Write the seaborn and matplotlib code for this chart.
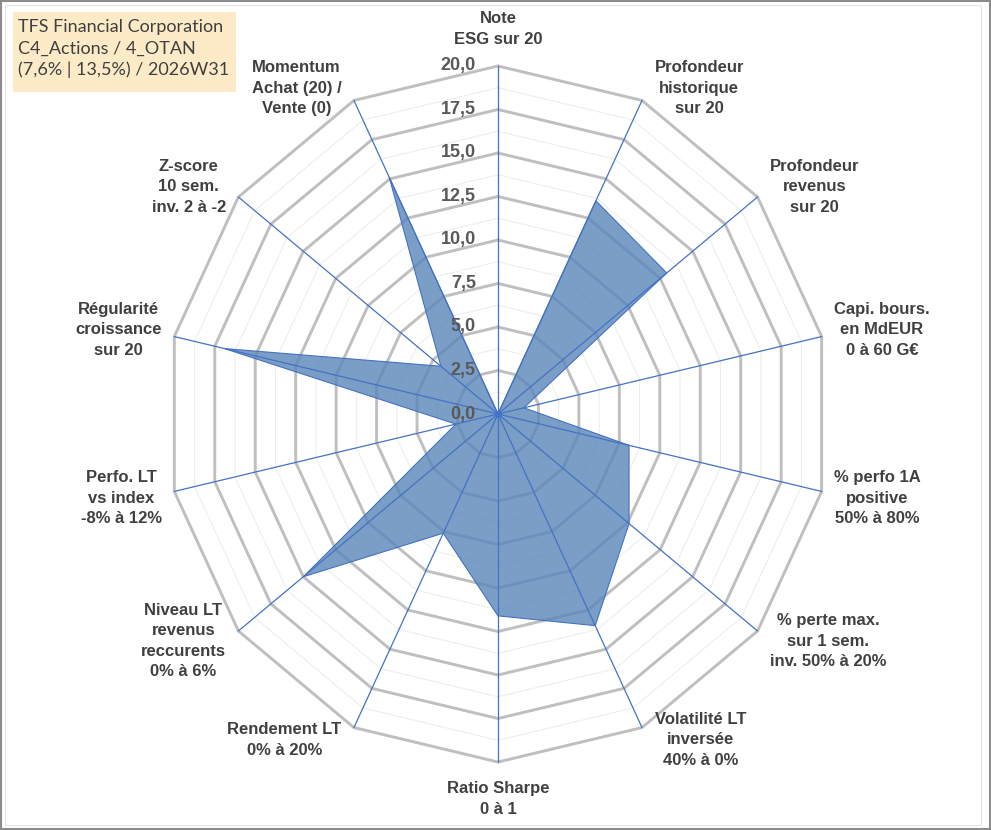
import numpy as np
import pandas as pd
import seaborn as sns
import matplotlib
matplotlib.use("Agg")
import matplotlib.pyplot as plt
from matplotlib.patches import Rectangle

# axis labels, clockwise from the top
categories = [
    "Note\nESG sur 20",
    "Profondeur\nhistorique\nsur 20",
    "Profondeur\nrevenus\nsur 20",
    "Capi. bours.\nen MdEUR\n0 à 60 G€",
    "% perfo 1A\npositive\n50% à 80%",
    "% perte max.\nsur 1 sem.\ninv. 50% à 20%",
    "Volatilité LT\ninversée\n40% à 0%",
    "Ratio Sharpe\n0 à 1",
    "Rendement LT\n0% à 20%",
    "Niveau LT\nrevenus\nreccurents\n0% à 6%",
    "Perfo. LT\nvs index\n-8% à 12%",
    "Régularité\ncroissance\nsur 20",
    "Z-score\n10 sem.\ninv. 2 à -2",
    "Momentum\nAchat (20) /\nVente (0)",
]
scores = [0.0, 13.6, 13.0, 1.6, 8.1, 10.1, 13.5, 11.6, 7.6, 15.0, 2.6, 16.9, 4.4, 15.1]
tick_values = [0.0, 2.5, 5.0, 7.5, 10.0, 12.5, 15.0, 17.5, 20.0]
tick_labels = ["0,0", "2,5", "5,0", "7,5", "10,0", "12,5", "15,0", "17,5", "20,0"]
title_lines = ["TFS Financial Corporation", "C4_Actions / 4_OTAN", "(7,6% | 13,5%) / 2026W31"]

sns.set_theme(style="white")
plt.rcParams["font.family"] = ["Liberation Sans", "DejaVu Sans"]

n = len(categories)
theta = np.linspace(0, 2 * np.pi, n, endpoint=False)
theta_closed = np.append(theta, theta[0])

fig = plt.figure(figsize=(9.91, 8.30), dpi=100)
# the Excel plot area is a bit wider than tall -> slightly squashed radar
ax = fig.add_axes([0.1675, 0.0819, 0.6700, 0.8386], projection="polar")
ax.set_aspect("auto")
ax.set_theta_zero_location("N")
ax.set_theta_direction(-1)
ax.set_ylim(0, 20)
ax.grid(False)
ax.spines["polar"].set_visible(False)
ax.set_xticks([])
ax.set_yticks([])
ax.set_facecolor("none")

# polygon rings: light minor ones every 1.25, grey major ones every 2.5
for r in np.arange(1.25, 20.01, 1.25):
    major = abs(r / 2.5 - round(r / 2.5)) < 1e-6
    ax.plot(theta_closed, [r] * (n + 1),
            color="#BFBFBF" if major else "#ECECEC",
            lw=2.1 if major else 0.7, zorder=1, clip_on=False)

# data (semi transparent so the rings show through)
df = pd.DataFrame({"theta": theta_closed, "score": scores + scores[:1]})
ax.fill(df["theta"], df["score"], color="#5A86BA", alpha=0.8, zorder=3, lw=0)
sns.lineplot(data=df, x="theta", y="score", sort=False, estimator=None,
             color="#4472C4", lw=0.8, ax=ax, zorder=4)
ax.set_xlabel("")
ax.set_ylabel("")

# spokes on top of the fill
for t in theta:
    ax.plot([t, t], [0, 20], color="#4472C4", lw=0.9, zorder=5, clip_on=False)
ax.plot([0], [0], marker="o", ms=4, color="#4472C4", zorder=5)

# radial tick labels along the top spoke
for v, lab in zip(tick_values, tick_labels):
    ax.annotate(lab, xy=(0, v), xytext=(-16, 0), textcoords="offset points",
                ha="right", va="center", fontsize=13, fontweight="bold",
                color="#595959", zorder=6, annotation_clip=False)

# category labels next to the outer vertex, Excel style
for t, lab in zip(theta, categories):
    s, c = np.sin(t), np.cos(t)
    if c > 0.95:
        ha, va, off = "center", "bottom", (0, 14)
    elif c < -0.95:
        ha, va, off = "center", "top", (0, -14)
    else:
        ha = "left" if s > 0 else "right"
        va = "center"
        off = (9 * np.sign(s), 3.6 * np.sign(c) + 5.8 * c)
    ax.annotate(lab, xy=(t, 20), xytext=off, textcoords="offset points",
                ha=ha, va=va, multialignment="center", fontsize=12,
                fontweight="bold", color="#404040", linespacing=1.45,
                annotation_clip=False)

# info box top left
fig.patches.append(Rectangle((13 / 991, 1 - 92 / 830), 223 / 991, 80 / 830,
                             transform=fig.transFigure, facecolor="#FDEBC7",
                             edgecolor="none", zorder=0))
for i, line in enumerate(title_lines):
    fig.text(18 / 991, 1 - (27 + 21.5 * i) / 830, line, ha="left", va="center",
             fontsize=13, color="#404040", family=["Lato", "DejaVu Sans"])

# outer frame
fig.patches.append(Rectangle((0.001, 0.001), 0.998, 0.998, transform=fig.transFigure,
                             fill=False, edgecolor="#8C8C8C", lw=1.5))
fig.patches.append(Rectangle((5 / 991, 5 / 830), 976 / 991, 820 / 830, transform=fig.transFigure,
                             fill=False, edgecolor="#E4E4E4", lw=0.8))

fig.savefig("out.png", dpi=100)
